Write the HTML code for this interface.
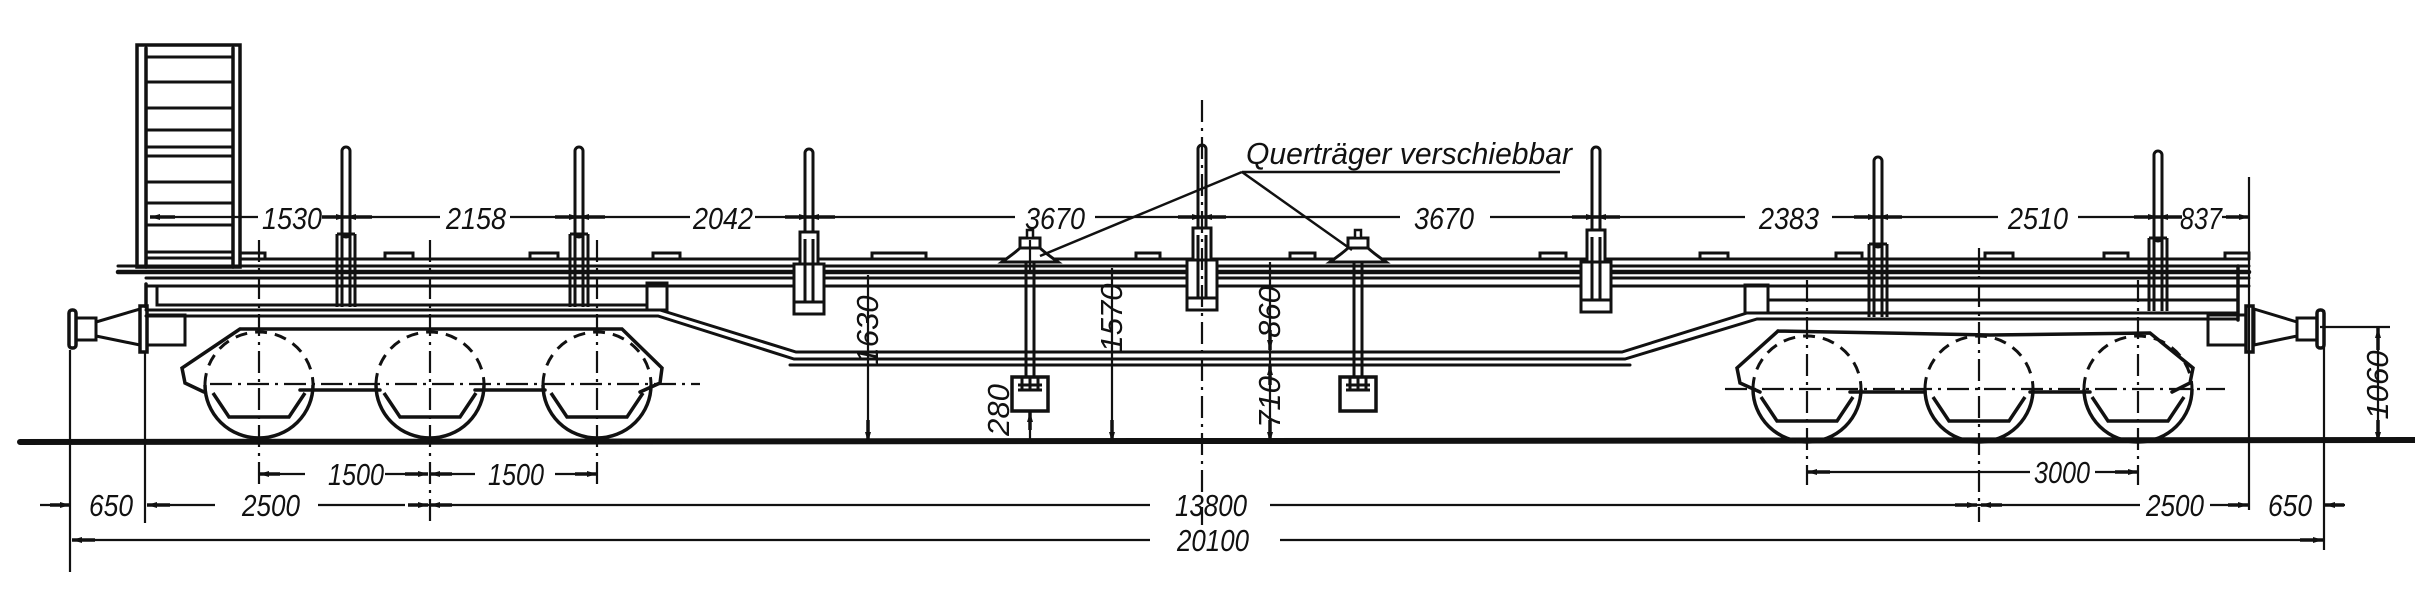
<!DOCTYPE html>
<html><head><meta charset="utf-8"><style>
html,body{margin:0;padding:0;background:#fff;}
svg{display:block;}
text{font-family:"Liberation Sans",sans-serif;font-style:italic;font-size:31px;fill:#111;}
</style></head><body>
<svg width="2415" height="601" viewBox="0 0 2415 601" xmlns="http://www.w3.org/2000/svg">
<defs>
<marker id="a" viewBox="0 0 10 6" refX="10" refY="3" markerWidth="14" markerHeight="6" markerUnits="userSpaceOnUse" orient="auto"><path d="M0,0L10,3L0,6z" fill="#111"/></marker>
<g id="wheel">
<path d="M-54,0 A54,53 0 0 1 54,0" fill="none" stroke="#111" stroke-width="3" stroke-dasharray="12,8"/>
<path d="M-54,0 A54,53 0 0 0 54,0" fill="none" stroke="#111" stroke-width="3.5"/>
<path d="M-46,8 L-30,32 L30,32 L46,8" fill="none" stroke="#111" stroke-width="3.5"/>
</g>
<g id="stakeA">
<rect x="-4" y="0" width="8" height="90" rx="4" fill="#fff" stroke="#111" stroke-width="3"/>
<path d="M-9,87 V160 M9,87 V160 M-4,87V160 M4,87V160 M-9,87 H9" fill="none" stroke="#111" stroke-width="3"/>
</g>
<g id="stakeB">
<rect x="-4" y="0" width="8" height="90" rx="4" fill="#fff" stroke="#111" stroke-width="3"/>
<rect x="-9" y="83" width="18" height="32" fill="#fff" stroke="#111" stroke-width="3"/>
<rect x="-15" y="115" width="30" height="50" fill="#fff" stroke="#111" stroke-width="3"/>
<path d="M-4,90V153 M4,90V153 M-15,153H15" stroke="#111" stroke-width="3"/>
</g>
<g id="hanger">
<path d="M-28,32 Q-14,22 -10,18 L10,18 Q14,22 28,32 Z" fill="#fff" stroke="#111" stroke-width="3"/>
<rect x="-10" y="8" width="20" height="10" fill="#fff" stroke="#111" stroke-width="3"/>
<rect x="-3" y="0" width="6" height="8" fill="#fff" stroke="#111" stroke-width="2.5"/>
<path d="M-4,32V147 M4,32V147" stroke="#111" stroke-width="3"/>
<rect x="-18" y="147" width="36" height="34" fill="#fff" stroke="#111" stroke-width="3.5"/>
<path d="M-12,155H12 M-8,147V160 M0,147V160 M8,147V160 M-12,160H12" stroke="#111" stroke-width="3" fill="none"/>
</g>
</defs>

<g fill="none" stroke="#111" stroke-linecap="round">
<path d="M20,442 L2415,440" stroke-width="6"/>

<rect x="137" y="45" width="103" height="222" stroke-width="3.5"/>
<path d="M146,48V267 M233,48V267" stroke-width="3.5"/>
<path d="M146,57H233 M146,82H233 M146,108H233 M146,130H233 M146,147H233 M146,156H233 M146,182H233 M146,203H233 M146,225H233 M146,252H233 M146,258H233" stroke-width="3"/>

<path d="M240,259 H2249" stroke-width="3"/>
<path d="M118,266 H2249" stroke-width="3"/>
<path d="M118,272 H2249" stroke-width="4.5"/>
<path d="M146,278 H2249" stroke-width="3"/>
<path d="M146,286 H2249" stroke-width="3"/>
<g stroke-width="3">
<path d="M240,259V253H265V259"/><path d="M385,259V253H413V259"/><path d="M530,259V253H558V259"/><path d="M653,259V253H680V259"/>
<path d="M872,259V253H926V259"/><path d="M1136,259V253H1160V259"/><path d="M1290,259V253H1315V259"/>
<path d="M1540,259V253H1566V259"/><path d="M1700,259V253H1728V259"/><path d="M1836,259V253H1862V259"/>
<path d="M1985,259V253H2013V259"/><path d="M2104,259V253H2128V259"/><path d="M2225,259V253H2249V259"/>
</g>
<path d="M146,284 V307" stroke-width="3.5"/>
<rect x="157" y="286" width="490" height="19" stroke-width="3"/>
<rect x="647" y="283" width="20" height="27" stroke-width="3"/>
<path d="M146,310 H660 L796,352 H1622 L1747,313 H2238" stroke-width="3"/>
<path d="M146,316 H658 L794,359 H1625 L1757,319 H2238" stroke-width="3"/>
<path d="M790,365 H1630" stroke-width="3"/>
<path d="M2238,266V320" stroke-width="3.5"/>
<rect x="1745" y="285" width="23" height="28" stroke-width="3"/>
<path d="M1768,300H2238" stroke-width="3"/>

<rect x="69" y="310" width="7" height="38" rx="3" stroke-width="3.5"/>
<rect x="76" y="318" width="20" height="22" stroke-width="3"/>
<path d="M96,322 L140,309 V345 L96,336 Z" stroke-width="3"/>
<rect x="140" y="306" width="7" height="46" stroke-width="3.5"/>
<rect x="147" y="315" width="38" height="30" stroke-width="3"/>
<rect x="2317" y="310" width="7" height="38" rx="3" stroke-width="3.5"/>
<rect x="2297" y="318" width="20" height="22" stroke-width="3"/>
<path d="M2297,322 L2254,309 V345 L2297,336 Z" stroke-width="3"/>
<rect x="2246" y="306" width="7" height="46" stroke-width="3.5"/>
<rect x="2208" y="315" width="38" height="30" stroke-width="3"/>

<path d="M240,329 L622,329 L662,368 L660,383 L640,392 M240,329 L182,368 L185,383 L204,392 M300,390 L380,390 M475,390 L545,390" stroke-width="3.5"/>
<path d="M1778,331 L1990,335 L2150,333 L2193,368 L2190,383 L2172,392 M1778,331 L1737,368 L1740,383 L1760,392 M1850,392 L1925,392 M2030,392 L2090,392" stroke-width="3.5"/>
</g>

<use href="#wheel" x="259" y="385"/>
<use href="#wheel" x="430" y="385"/>
<use href="#wheel" x="597" y="385"/>
<use href="#wheel" x="1807" y="389"/>
<use href="#wheel" x="1979" y="389"/>
<use href="#wheel" x="2138" y="389"/>

<use href="#stakeA" x="346" y="147"/>
<use href="#stakeA" x="579" y="147"/>
<use href="#stakeB" x="809" y="149"/>
<use href="#stakeB" x="1202" y="145"/>
<use href="#stakeB" x="1596" y="147"/>
<use href="#stakeA" x="1878" y="157"/>
<use href="#stakeA" x="2158" y="151"/>
<use href="#hanger" x="1030" y="230"/>
<use href="#hanger" x="1358" y="230"/>

<g fill="none" stroke="#111" stroke-width="2.2">
<g stroke-dasharray="22,6,3,6">
<path d="M210,384 H700"/><path d="M1725,389 H2225"/>
<path d="M259,240 V488"/><path d="M430,240 V525"/><path d="M597,240 V488"/>
<path d="M1202,100 V525"/><path d="M1807,280 V485"/><path d="M1979,248 V522"/><path d="M2138,280 V485"/>
</g>
<path d="M70,350V572 M145,352V523 M2249,177V510 M2324,310V550 M2320,327H2390 M1030,240V270"/>
<path d="M150,217H258 M322,217H440 M510,217H690 M755,217H1015 M1095,217H1400 M1490,217H1745 M1832,217H1998 M2078,217H2180 M2222,217H2249"/>
<g stroke-width="3.5" marker-end="url(#a)">
<path d="M175,217H150"/><path d="M322,217H346"/><path d="M372,217H346"/><path d="M555,217H579"/><path d="M605,217H579"/><path d="M785,217H809"/><path d="M835,217H809"/><path d="M1178,217H1202"/><path d="M1226,217H1202"/><path d="M1572,217H1596"/><path d="M1620,217H1596"/><path d="M1854,217H1878"/><path d="M1902,217H1878"/><path d="M2134,217H2158"/><path d="M2182,217H2158"/><path d="M2226,217H2249"/>
</g>
<path d="M259,474H305 M385,474H405 M440,474H475 M555,474H597"/>
<path d="M1807,472H2030 M2095,472H2138"/>
<path d="M40,505H68 M148,505H215 M318,505H405 M420,505H1150 M1270,505H2140 M2210,505H2245 M2328,505H2345"/>
<path d="M72,540H1150 M1280,540H2322"/>
<g stroke-width="3.5" marker-end="url(#a)">
<path d="M280,474H259"/><path d="M405,474H428"/><path d="M452,474H430"/><path d="M575,474H597"/>
<path d="M1830,472H1807"/><path d="M2115,472H2138"/>
<path d="M50,505H70"/><path d="M170,505H147"/><path d="M408,505H428"/><path d="M452,505H430"/><path d="M1955,505H1977"/><path d="M2002,505H1981"/><path d="M2228,505H2248"/><path d="M2344,505H2325"/>
<path d="M95,540H72"/><path d="M2300,540H2323"/>
</g>
<path d="M868,275V442 M1112,268V442 M1270,262V442 M1030,415V442 M2378,327V442"/>
<g stroke-width="3.5" marker-end="url(#a)">
<path d="M868,420V442"/><path d="M1112,420V442"/><path d="M1270,330V350"/><path d="M1270,385V365"/><path d="M1270,420V442"/><path d="M1030,430V412"/><path d="M2378,350V328"/><path d="M2378,420V442"/>
</g>
<path d="M1242,172H1560 M1242,172L1040,256 M1242,172L1352,250" stroke-width="2.5"/>
</g>

<g>
<text x="262" y="229" textLength="60" lengthAdjust="spacingAndGlyphs">1530</text>
<text x="446" y="229" textLength="60" lengthAdjust="spacingAndGlyphs">2158</text>
<text x="693" y="229" textLength="60" lengthAdjust="spacingAndGlyphs">2042</text>
<text x="1025" y="229" textLength="60" lengthAdjust="spacingAndGlyphs">3670</text>
<text x="1414" y="229" textLength="60" lengthAdjust="spacingAndGlyphs">3670</text>
<text x="1759" y="229" textLength="60" lengthAdjust="spacingAndGlyphs">2383</text>
<text x="2008" y="229" textLength="60" lengthAdjust="spacingAndGlyphs">2510</text>
<text x="2180" y="229" textLength="42" lengthAdjust="spacingAndGlyphs">837</text>
<text x="1246" y="164" textLength="326" lengthAdjust="spacingAndGlyphs">Querträger verschiebbar</text>
<text x="328" y="485" textLength="56" lengthAdjust="spacingAndGlyphs">1500</text>
<text x="488" y="485" textLength="56" lengthAdjust="spacingAndGlyphs">1500</text>
<text x="2034" y="483" textLength="56" lengthAdjust="spacingAndGlyphs">3000</text>
<text x="89" y="516" textLength="44" lengthAdjust="spacingAndGlyphs">650</text>
<text x="242" y="516" textLength="58" lengthAdjust="spacingAndGlyphs">2500</text>
<text x="1175" y="516" textLength="72" lengthAdjust="spacingAndGlyphs">13800</text>
<text x="2146" y="516" textLength="58" lengthAdjust="spacingAndGlyphs">2500</text>
<text x="2268" y="516" textLength="44" lengthAdjust="spacingAndGlyphs">650</text>
<text x="1177" y="551" textLength="72" lengthAdjust="spacingAndGlyphs">20100</text>
<text transform="translate(878,330) rotate(-90)" text-anchor="middle">1630</text>
<text transform="translate(1122,318) rotate(-90)" text-anchor="middle">1570</text>
<text transform="translate(1280,312) rotate(-90)" text-anchor="middle">860</text>
<text transform="translate(1280,402) rotate(-90)" text-anchor="middle">710</text>
<text transform="translate(1009,410) rotate(-90)" text-anchor="middle">280</text>
<text transform="translate(2388,385) rotate(-90)" text-anchor="middle">1060</text>
</g>
</svg>
</body></html>
